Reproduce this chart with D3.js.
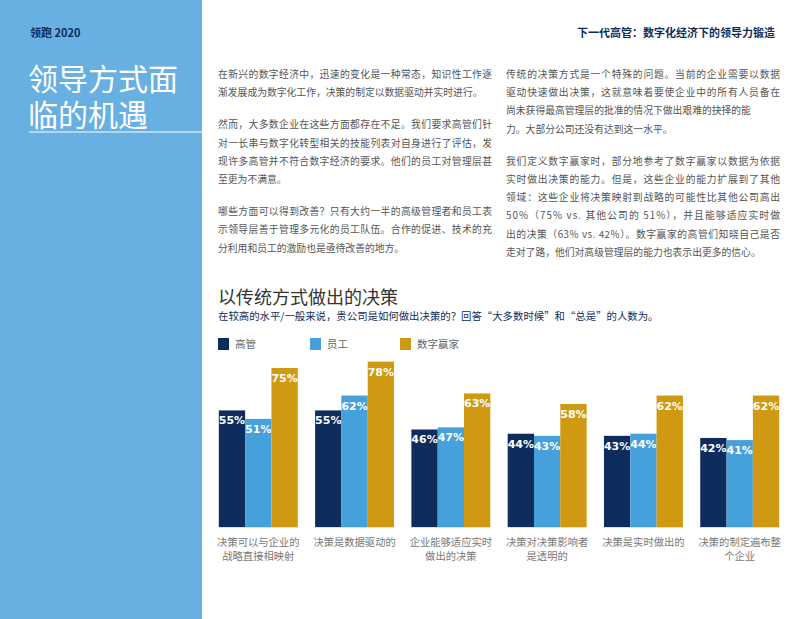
<!DOCTYPE html>
<html><head><meta charset="utf-8">
<script src="https://cdn.jsdelivr.net/npm/d3@7"></script>
<style>body{margin:0;background:#fff}svg{display:block}</style>
</head><body>
<svg id="c" width="800" height="619"></svg>
<script>
const categories = [["决策可以与企业的","战略直接相映射"],["决策是数据驱动的"],["企业能够适应实时","做出的决策"],["决策对决策影响者","是透明的"],["决策是实时做出的"],["决策的制定遍布整","个企业"]];
const seriesNames = ["高管","员工","数字赢家"];
const exec = [55,55,46,44,43,42];
const staff = [51,62,47,43,44,41];
const winners = [75,78,63,58,62,62];
const colors = ["#0f2d5c","#46a0dc","#cf9a12"];
const para1 = ["在新兴的数字经济中，迅速的变化是一种常态，知识性工作逐","渐发展成为数字化工作，决策的制定以数据驱动并实时进行。","","然而，大多数企业在这些方面都存在不足。我们要求高管们针","对一长串与数字化转型相关的技能列表对自身进行了评估，发","现许多高管并不符合数字经济的要求。他们的员工对管理层甚","至更为不满意。","","哪些方面可以得到改善？只有大约一半的高级管理者和员工表","示领导层善于管理多元化的员工队伍。合作的促进、技术的充","分利用和员工的激励也是亟待改善的地方。"];
const para2 = ["传统的决策方式是一个特殊的问题。当前的企业需要以数据","驱动快速做出决策，这就意味着要使企业中的所有人员备在","尚未获得最高管理层的批准的情况下做出艰难的抉择的能","力。大部分公司还没有达到这一水平。","","我们定义数字赢家时，部分地参考了数字赢家以数据为依据","实时做出决策的能力。但是，这些企业的能力扩展到了其他","领域：这些企业将决策映射到战略的可能性比其他公司高出","50%（75%  vs.  其他公司的  51%），并且能够适应实时做","出的决策（63% vs. 42%）。数字赢家的高管们知晓自己是否","走对了路，他们对高级管理层的能力也表示出更多的信心。"];

const svg = d3.select("#c");
const F = "'Noto Sans CJK SC', sans-serif";
svg.append("rect").attr("x",0).attr("y",0).attr("width",202).attr("height",619).attr("fill","#68afe2");
svg.append("text").attr("x",30).attr("y",37).attr("font-family",F).attr("font-size",11).attr("font-weight","bold").attr("fill","#0f2d5c").text("领跑 2020");
svg.append("text").attr("x",775).attr("y",37).attr("text-anchor","end").attr("font-family",F).attr("font-size",11).attr("font-weight","bold").attr("fill","#0f2d5c").text("下一代高管：数字化经济下的领导力锻造");
["领导方式面","临的机遇"].forEach((t,i)=>svg.append("text").attr("x",28).attr("y",90+i*36).attr("font-family",F).attr("font-size",30).attr("fill","#fff").text(t));
svg.append("line").attr("x1",29).attr("x2",202).attr("y1",132).attr("y2",132).attr("stroke","#fff").attr("stroke-width",1.2);

function para(lines,x){
  let yy=78;
  lines.forEach((t)=>{
    if(!t){yy+=14;return;}
    const full = t.length>=26 && !t.endsWith("。") ;
    const el=svg.append("text").attr("x",x).attr("y",yy).attr("font-family",F).attr("font-size",9.8).attr("fill","#555").text(t);
    if(full) el.attr("textLength",274).attr("lengthAdjust","spacing");
    yy+=18.2;
  });
}
para(para1,218); para(para2,506);

svg.append("text").attr("x",218).attr("y",304).attr("font-family",F).attr("font-size",18).attr("fill","#333").text("以传统方式做出的决策");
svg.append("text").attr("x",218).attr("y",320).attr("font-family",F).attr("font-size",10.4).attr("fill","#0f2d5c").text("在较高的水平/一般来说，贵公司是如何做出决策的？回答“大多数时候”和“总是”的人数为。");
seriesNames.forEach((n,i)=>{
  const lx=[218,310,400][i];
  svg.append("rect").attr("x",lx).attr("y",338).attr("width",11).attr("height",12).attr("fill",colors[i]);
  svg.append("text").attr("x",lx+17).attr("y",348).attr("font-family",F).attr("font-size",10.5).attr("fill","#666").text(n);
});

const x0 = d3.scaleBand().domain(d3.range(6)).range([214,784]).paddingInner(0.18).paddingOuter(0.05);
const x1 = d3.scaleBand().domain(d3.range(3)).range([0,x0.bandwidth()]);
const y = d3.scaleLinear().domain([0,75]).range([527,368]);
const series=[exec,staff,winners];
for(let g=0;g<6;g++){
  svg.append("line").attr("x1",x0(g)).attr("x2",x0(g)+x0.bandwidth()).attr("y1",527.5).attr("y2",527.5).attr("stroke","#ddd");
  for(let s=0;s<3;s++){
    const v=series[s][g], bx=x0(g)+x1(s);
    svg.append("rect").attr("x",bx).attr("y",y(v)).attr("width",x1.bandwidth()).attr("height",527-y(v)).attr("fill",colors[s]);
    svg.append("text").attr("x",bx+x1.bandwidth()/2).attr("y",y(v)+14).attr("text-anchor","middle").attr("font-family","'DejaVu Sans',sans-serif").attr("font-weight","bold").attr("font-size",11).attr("fill","#fff").text(v+"%");
  }
  categories[g].forEach((t,i)=>svg.append("text").attr("x",x0(g)+x0.bandwidth()/2).attr("y",546+i*14).attr("text-anchor","middle").attr("font-family",F).attr("font-size",10.3).attr("fill","#777").text(t));
}
</script></body></html>
